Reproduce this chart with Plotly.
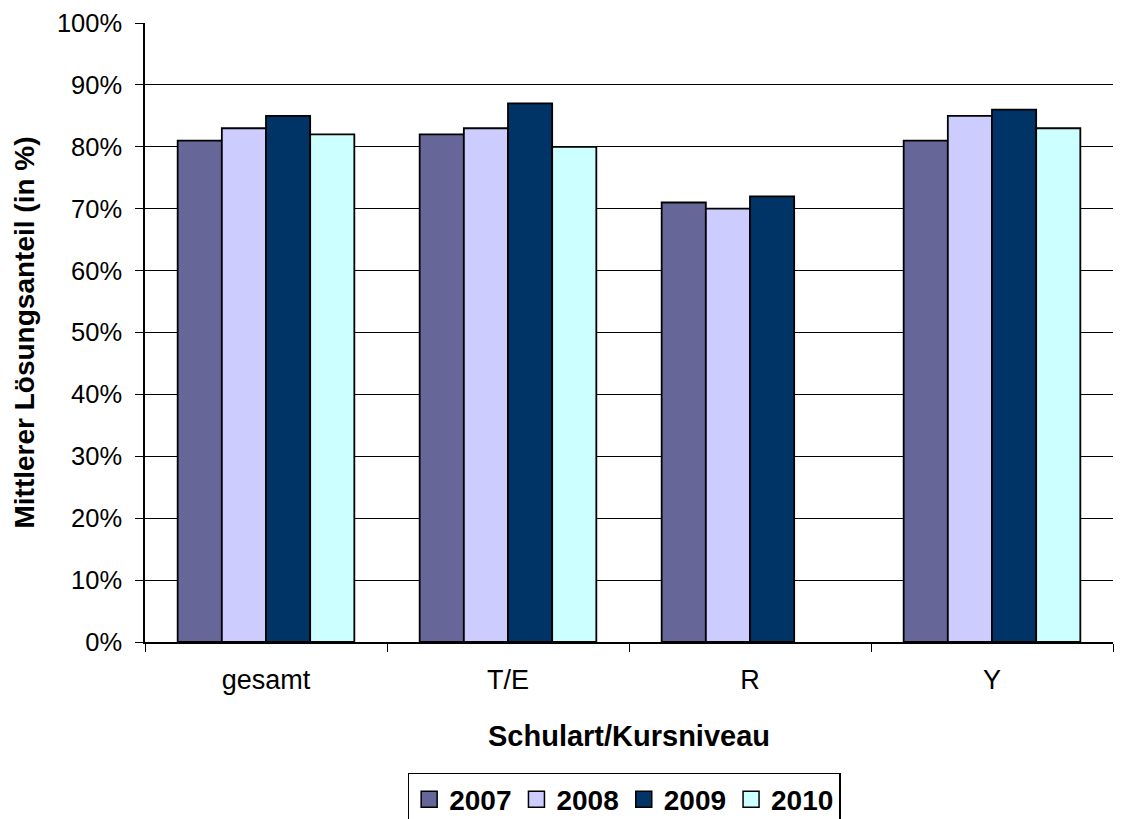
from plotly import graph_objects as plgo

categories = ['gesamt', 'T/E', 'R', 'Y']
years = ['2007', '2008', '2009', '2010']
values_2007 = [0.81, 0.82, 0.71, 0.81]
values_2008 = [0.83, 0.83, 0.70, 0.85]
values_2009 = [0.85, 0.87, 0.72, 0.86]
values_2010 = [0.82, 0.80, None, 0.83]

bar_colors = ['#666699', '#CCCCFF', '#003366', '#CCFFFF']
FONT = 'Liberation Sans, Arial, sans-serif'

fig = plgo.Figure()
for year, vals, color in zip(years, [values_2007, values_2008, values_2009, values_2010], bar_colors):
    fig.add_bar(x=categories, y=vals, name=year, showlegend=False, legendgroup=year,
                marker=dict(color=color, line=dict(color='black', width=1.8)))
    # bigger square legend keys than the bar default
    fig.add_scatter(x=[None], y=[None], name=year, legendgroup=year, mode='markers',
                    marker=dict(symbol='square', size=16, color=color,
                                line=dict(color='black', width=1.5)))

# page body adds an 8px offset, margins below are compensated for it
fig.update_layout(
    width=1126, height=819,
    margin=dict(l=137, r=21, t=15, b=185, autoexpand=False),
    paper_bgcolor='white', plot_bgcolor='white',
    barmode='group', bargap=0.27, bargroupgap=0,
    font=dict(family=FONT, color='black', size=24),
    legend=dict(orientation='h', x=0.495, xanchor='center', yref='container', y=0.066, yanchor='top',
                bordercolor='black', borderwidth=1.5,
                font=dict(size=28, family=FONT, weight='bold'),
                itemwidth=30, traceorder='normal', tracegroupgap=0),
)
fig.update_xaxes(
    type='category', tickson='boundaries', ticks='outside', ticklen=8, tickcolor='black',
    showline=True, linecolor='black', linewidth=1.5, showgrid=False,
    tickfont=dict(size=27), ticklabelstandoff=13,
    title=dict(text='Schulart/Kursniveau', font=dict(size=29, weight='bold'), standoff=32),
)
fig.update_yaxes(
    range=[0, 1], dtick=0.1, tickformat='.0%', ticks='outside', ticklen=8, tickcolor='black',
    showline=True, linecolor='black', linewidth=1.5,
    showgrid=True, gridcolor='black', gridwidth=1.3, zeroline=False,
    tickfont=dict(size=25.5), ticklabelstandoff=8,
    title=dict(text='Mittlerer Lösungsanteil (in %)', font=dict(size=28, weight='bold'), standoff=14),
)

fig.write_html("out.html")
